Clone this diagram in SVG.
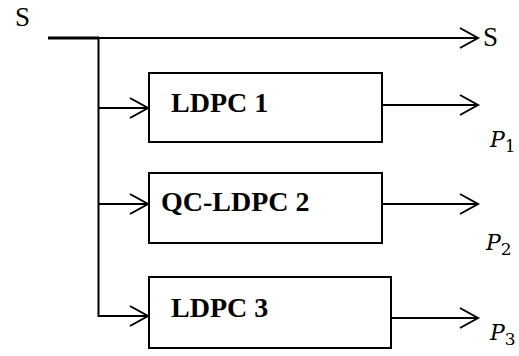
<svg xmlns="http://www.w3.org/2000/svg" width="519" height="356" viewBox="0 0 519 356">
  <defs>
    <marker id="arrow" markerUnits="userSpaceOnUse" markerWidth="22" markerHeight="24" refX="18" refY="10" orient="auto" overflow="visible">
      <path d="M0,0 L18,10 L0,20" fill="none" stroke="#000" stroke-width="2"/>
    </marker>
  </defs>
  <style>
    .wire { fill: none; stroke: #000; stroke-width: 2; }
    .box { fill: #fff; stroke: #000; stroke-width: 2; }
    text { font-family: "Liberation Serif", "DejaVu Serif", serif; fill: #000; }
    .lbl { font-weight: bold; font-size: 28px; }
    .sig { font-size: 27px; }
    .out { font-family: "DejaVu Serif", serif; font-style: italic; font-size: 22px; }
    .sub { font-size: 17px; font-style: normal; }
  </style>
  <rect width="519" height="356" fill="#fff"/>

  <!-- source and pass-through -->
  <g id="source">
    <text class="sig" x="15" y="26">S</text>
  </g>
  <g id="passthrough">
    <text class="sig" x="483" y="46">S</text>
  </g>

  <!-- coders -->
  <g id="ldpc1">
    <rect class="box" x="149" y="73" width="233" height="69"/>
    <text class="lbl" x="171" y="112">LDPC 1</text>
  </g>
  <g id="qcldpc2">
    <rect class="box" x="149" y="173" width="233" height="70"/>
    <text class="lbl" x="161" y="211">QC-LDPC 2</text>
  </g>
  <g id="ldpc3">
    <rect class="box" x="149" y="277" width="242" height="71"/>
    <text class="lbl" x="171" y="317">LDPC 3</text>
  </g>

  <!-- outputs -->
  <g id="p1">
    <text class="out" x="490" y="147">P<tspan class="sub" dy="5">1</tspan></text>
  </g>
  <g id="p2">
    <text class="out" x="486" y="250">P<tspan class="sub" dy="5">2</tspan></text>
  </g>
  <g id="p3">
    <text class="out" x="490" y="340">P<tspan class="sub" dy="5">3</tspan></text>
  </g>

  <!-- connectors -->
  <g id="connectors">
    <line x1="48" y1="38" x2="99" y2="38" stroke="#000" stroke-width="3"/>
    <line class="wire" x1="98" y1="38" x2="478" y2="38" marker-end="url(#arrow)"/>
    <line class="wire" x1="98.5" y1="37" x2="98.5" y2="317"/>
    <line class="wire" x1="98" y1="108" x2="148" y2="108" marker-end="url(#arrow)"/>
    <line class="wire" x1="98" y1="204" x2="148" y2="204" marker-end="url(#arrow)"/>
    <line class="wire" x1="98" y1="316" x2="148" y2="316" marker-end="url(#arrow)"/>
    <line class="wire" x1="382" y1="105" x2="478" y2="105" marker-end="url(#arrow)"/>
    <line class="wire" x1="382" y1="204" x2="478" y2="204" marker-end="url(#arrow)"/>
    <line class="wire" x1="391" y1="318" x2="478" y2="318" marker-end="url(#arrow)"/>
  </g>
</svg>
